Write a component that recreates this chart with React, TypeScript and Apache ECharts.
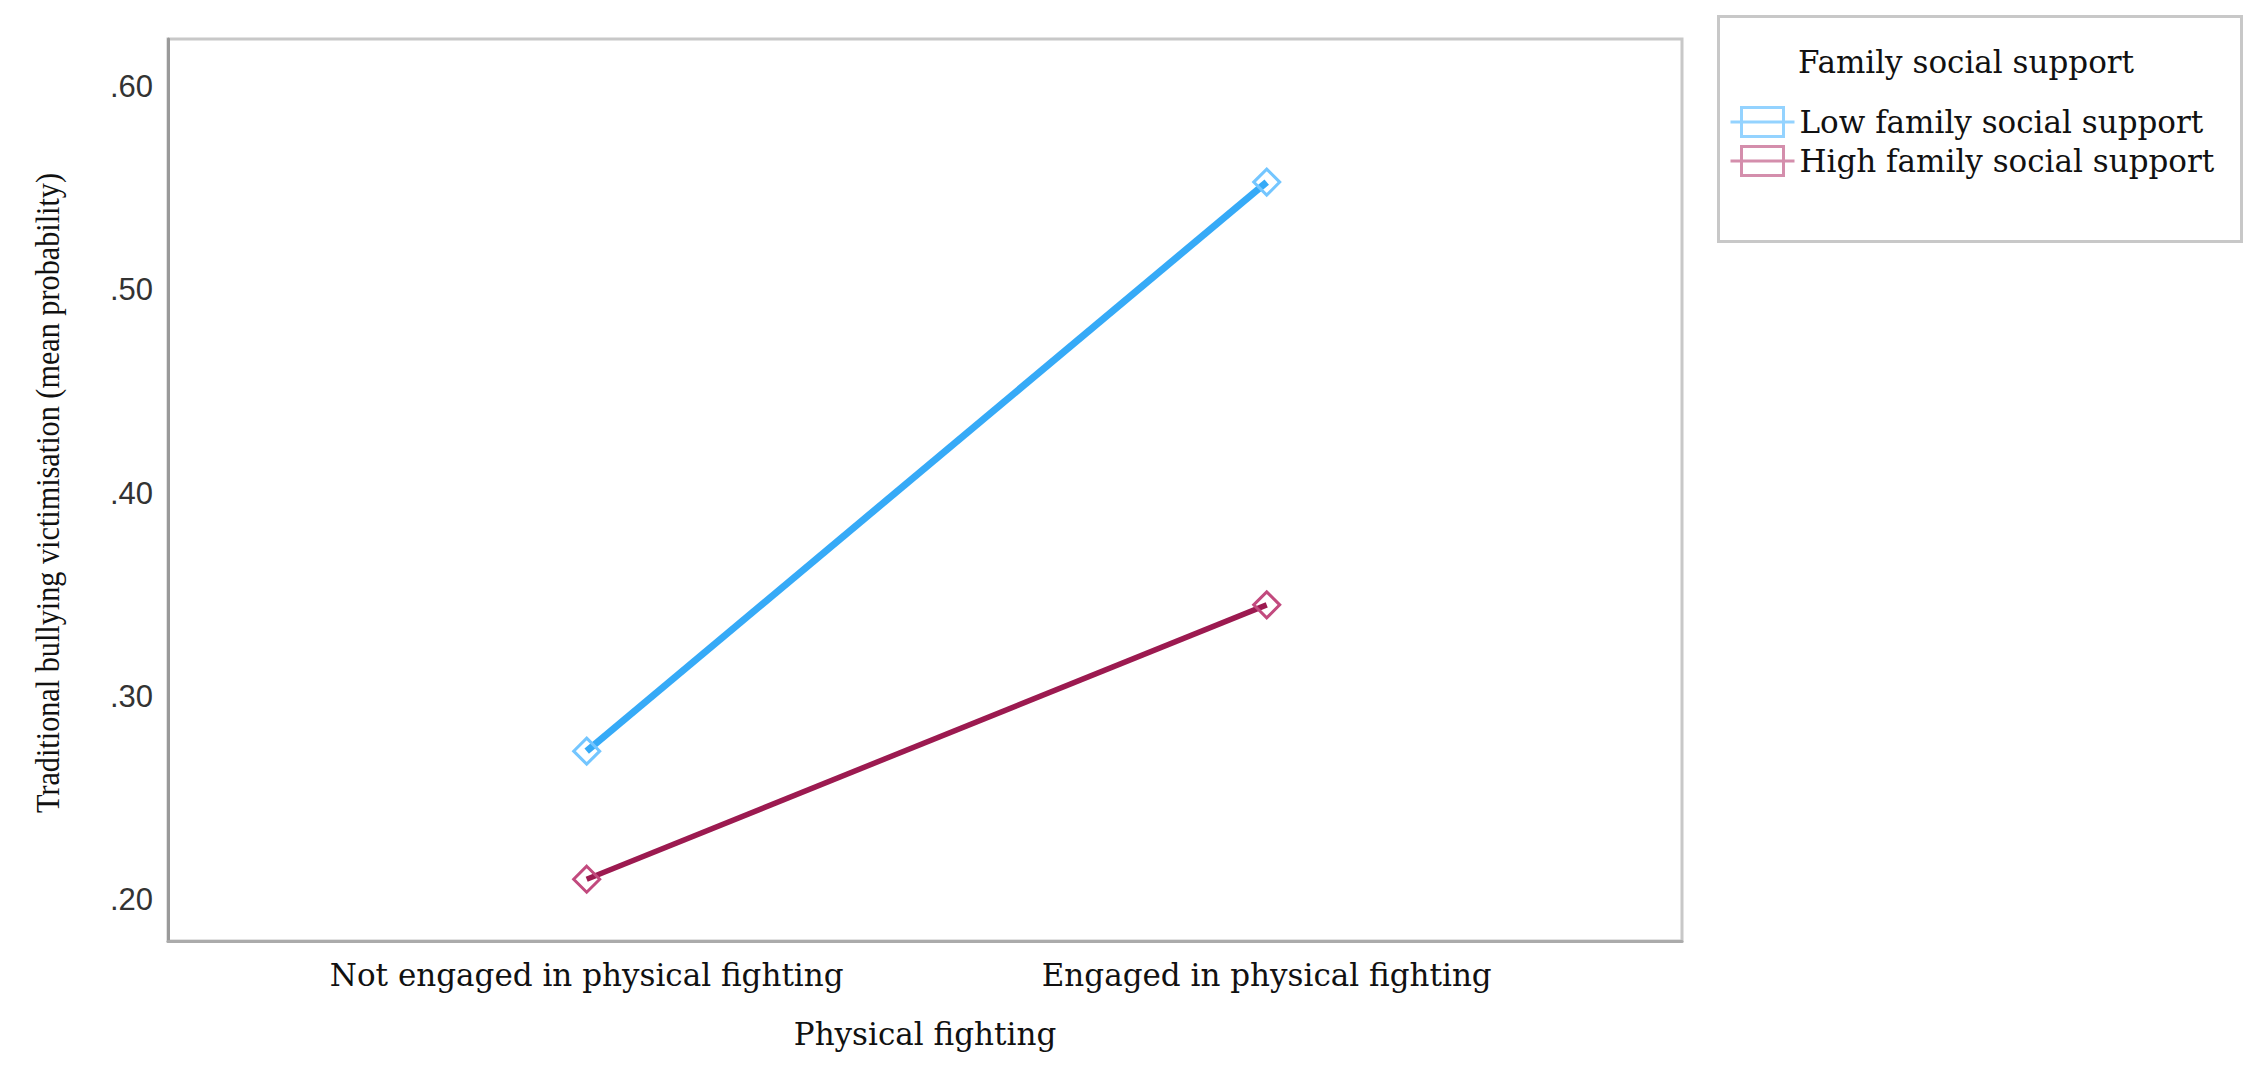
import React, { useEffect, useRef } from 'react';
import * as echarts from 'echarts';

const categories = ['Not engaged in physical fighting', 'Engaged in physical fighting'];
const seriesNames = ['Low family social support', 'High family social support'];
const lowSupport = [0.273, 0.553];
const highSupport = [0.21, 0.345];
const yTicks = [0.2, 0.3, 0.4, 0.5, 0.6];
const legendTitle = 'Family social support';
const xTitle = 'Physical fighting';
const yTitle = 'Traditional bullying victimisation (mean probability)';

const SERIF = '"DejaVu Serif", serif';
const TITLE_FONT = '34px "Liberation Serif", serif';
const LINE_COLORS = ['#36aaf7', '#9c1a50'];
const MARK_COLORS = ['#74c6ff', '#c24a7e'];
const LEGEND_COLORS = ['rgba(60,175,255,0.55)', 'rgba(170,30,90,0.5)'];

function measure(text: string, font: string): number {
  const c = document.createElement('canvas').getContext('2d');
  if (!c) return text.length * 15;
  c.font = font;
  return c.measureText(text).width;
}

export default function App() {
  const ref = useRef<HTMLDivElement>(null);
  useEffect(() => {
    if (!ref.current) return;
    const chart = echarts.init(ref.current, null, { renderer: 'svg' });
    const values = [lowSupport, highSupport];
    const legendIcon = 'path://M11,1.5 L53,1.5 L53,30.5 L11,30.5 Z M0,16 L64,16';
    const yTitleScale = 640 / measure(yTitle, TITLE_FONT);
    chart.setOption({
      animation: false,
      backgroundColor: '#ffffff',
      grid: {
        left: 168,
        top: 39,
        right: 574,
        bottom: 136,
        show: true,
        borderColor: '#c8c8c8',
        borderWidth: 3,
        containLabel: false,
      },
      xAxis: {
        type: 'value',
        min: -0.6157,
        max: 1.6107,
        splitLine: { show: false },
        axisTick: { show: false },
        axisLine: { show: true, onZero: false, lineStyle: { color: '#ababab', width: 3 } },
        axisLabel: {
          customValues: categories.map((_, i) => i),
          formatter: (v: number) => categories[Math.round(v)] ?? '',
          fontFamily: SERIF,
          fontSize: 31,
          color: '#111',
          margin: 18,
        },
        name: xTitle,
        nameLocation: 'middle',
        nameGap: 77,
        nameTextStyle: { fontFamily: SERIF, fontSize: 31, color: '#111' },
      },
      yAxis: {
        type: 'value',
        min: 0.1796,
        max: 0.6234,
        splitLine: { show: false },
        axisTick: { show: false },
        axisLine: { show: true, onZero: false, lineStyle: { color: '#9a9a9a', width: 3 } },
        axisLabel: {
          customValues: yTicks,
          formatter: (v: number) => '.' + String(Math.round(v * 100)).padStart(2, '0'),
          fontFamily: '"Liberation Sans", sans-serif',
          fontSize: 31,
          color: '#333',
          margin: 15,
        },
      },
      legend: {
        orient: 'vertical',
        left: 1729,
        top: 106,
        padding: 0,
        itemWidth: 64,
        itemHeight: 32,
        itemGap: 7,
        icon: legendIcon,
        textStyle: { fontFamily: SERIF, fontSize: 31, color: '#111' },
        data: seriesNames.map((n, i) => ({
          name: n,
          itemStyle: { color: 'rgba(0,0,0,0)', borderColor: LEGEND_COLORS[i], borderWidth: 3 },
        })),
      },
      graphic: [
        {
          type: 'rect',
          left: 1716,
          top: 14,
          shape: { width: 523, height: 225 },
          style: { fill: 'none', stroke: '#c8c8c8', lineWidth: 3 },
          silent: true,
        },
        {
          type: 'text',
          left: 1798,
          top: 46,
          style: { text: legendTitle, font: `31px ${SERIF}`, fill: '#111' },
          silent: true,
        },
        {
          type: 'text',
          x: 47,
          y: 493,
          rotation: Math.PI / 2,
          scaleX: yTitleScale,
          style: {
            text: yTitle,
            font: TITLE_FONT,
            fill: '#111',
            align: 'center',
            verticalAlign: 'middle',
          },
          silent: true,
        },
      ],
      series: seriesNames.map((n, i) => ({
        name: n,
        type: 'line',
        data: values[i].map((v, j) => [j, v]),
        symbol: 'diamond',
        symbolSize: 26,
        showSymbol: true,
        lineStyle: { color: LINE_COLORS[i], width: i === 0 ? 7 : 5.5 },
        itemStyle: { color: 'rgba(255,255,255,0)', borderColor: MARK_COLORS[i], borderWidth: 3 },
        z: 2 + i,
      })),
    });
    return () => chart.dispose();
  }, []);
  return (
    <div
      ref={ref}
      style={{ position: 'fixed', left: 0, top: 0, width: 2256, height: 1077, background: '#fff' }}
    />
  );
}
